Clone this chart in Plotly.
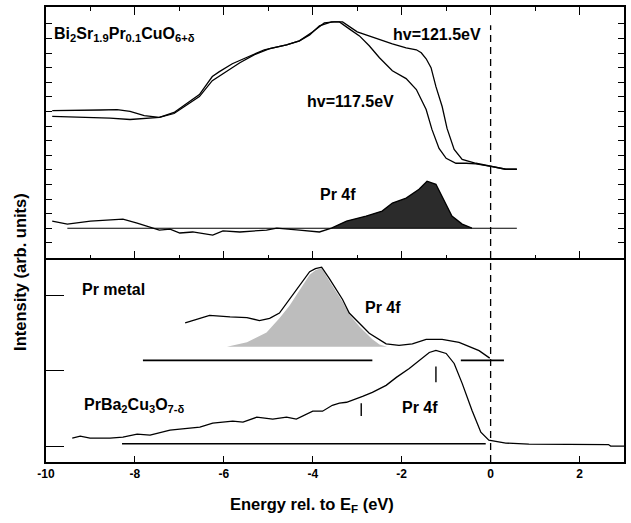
import plotly.graph_objects as go

# ---------------- data (energy in eV, intensity in arb. units) ----------------
# Upper panel: Bi2Sr1.9Pr0.1CuO6+d spectra
E_121 = [-9.86, -9.23, -8.78, -8.40, -8.11, -7.79, -7.45, -7.12, -6.78, -6.55, -6.26, -6.10,
         -5.81, -5.42, -5.09, -4.59, -4.30, -4.07, -3.85, -3.58, -3.33, -3.00, -2.73, -2.50,
         -2.21, -1.90, -1.67, -1.56, -1.45, -1.34, -1.23, -1.09, -0.98, -0.82, -0.64, -0.33,
         0.01, 0.34, 0.59]
I_121 = [9.06, 9.06, 9.10, 9.13, 9.00, 8.72, 8.59, 8.93, 9.68, 10.16, 11.39, 11.73,
         12.27, 12.82, 13.23, 13.57, 13.84, 14.25, 14.87, 15.14, 15.14, 14.46, 14.18, 13.91,
         13.64, 13.36, 13.23, 13.02, 12.61, 12.00, 10.70, 9.34, 7.84, 6.40, 5.72, 5.45,
         5.24, 5.04, 5.04]

E_117 = [-9.86, -9.23, -8.56, -8.11, -7.66, -7.45, -7.12, -6.78, -6.55, -6.26, -5.98, -5.64,
         -5.31, -4.97, -4.59, -4.30, -4.00, -3.74, -3.52, -3.40, -3.18, -2.95, -2.73, -2.50,
         -2.21, -1.90, -1.67, -1.45, -1.32, -1.16, -1.00, -0.78, -0.55, -0.33, 0.01, 0.34, 0.59]
I_117 = [8.66, 8.62, 8.55, 8.45, 8.52, 8.59, 8.86, 9.54, 10.02, 11.11, 11.66, 12.34,
         12.89, 13.30, 13.57, 13.84, 14.46, 15.07, 15.14, 15.14, 14.66, 14.18, 13.50, 12.68,
         11.79, 11.25, 10.50, 9.13, 7.77, 6.47, 5.79, 5.45, 5.45, 5.41, 5.24, 5.04, 5.04]

# Upper panel: difference spectrum (Pr 4f)
E_DIFF = [-9.86, -9.52, -9.00, -8.27, -7.95, -7.45, -7.21, -6.99, -6.70, -6.25, -6.02, -5.64,
          -5.04, -4.81, -4.30, -3.85, -3.58, -3.24, -2.80, -2.44, -2.21, -1.90, -1.61, -1.43,
          -1.23, -1.00, -0.87, -0.64, -0.42]
I_DIFF = [1.49, 1.28, 1.49, 1.62, 1.35, 0.87, 0.94, 0.67, 0.74, 0.53, 0.81, 0.74,
          0.87, 1.01, 0.87, 0.74, 1.01, 1.49, 1.83, 2.17, 2.72, 3.06, 3.67, 4.22,
          4.01, 2.65, 1.83, 1.28, 1.01]
DIFF_BASE = 1.0
DIFF_BASE_RANGE = [-9.52, 0.59]
DIFF_FILL_FROM = -3.58

# Lower panel: Pr metal
E_PRMETAL = [-6.87, -6.54, -6.32, -5.86, -5.48, -5.20, -4.97, -4.75, -4.52, -4.30, -4.07, -3.94,
             -3.80, -3.63, -3.33, -3.18, -2.95, -2.73, -2.35, -2.06, -1.76, -1.45, -1.09, -0.71,
             -0.26, -0.02]
I_PRMETAL = [1.64, 1.70, 1.74, 1.72, 1.71, 1.67, 1.70, 1.77, 1.96, 2.13, 2.32, 2.36,
             2.38, 2.23, 1.95, 1.77, 1.63, 1.50, 1.36, 1.34, 1.36, 1.42, 1.42, 1.38,
             1.27, 1.17]
E_PRMETAL_4F = [-5.93, -5.48, -5.04, -4.75, -4.52, -4.30, -4.07, -3.94, -3.80, -3.63, -3.33,
                -3.18, -2.95, -2.66, -2.50, -2.33]
I_PRMETAL_4F = [1.32, 1.38, 1.51, 1.70, 1.87, 2.07, 2.28, 2.34, 2.37, 2.20, 1.92,
                1.75, 1.59, 1.42, 1.35, 1.32]
PRMETAL_BASE = 1.14
PRMETAL_BASE_SEGMENTS = [[-7.82, -2.66], [-0.67, 0.30]]

# Lower panel: PrBa2Cu3O7-d
E_PRBCO = [-9.41, -9.23, -9.01, -8.56, -8.27, -7.95, -7.66, -7.21, -6.99, -6.54, -6.25, -5.80,
           -5.57, -5.26, -4.90, -4.59, -4.37, -4.00, -3.78, -3.56, -3.40, -3.24, -2.88, -2.66,
           -2.35, -2.12, -1.83, -1.61, -1.38, -1.23, -1.00, -0.82, -0.64, -0.42, -0.22, -0.04,
           0.34, 0.86, 1.76, 2.65, 2.70, 3.04]
I_PRBCO = [0.106, 0.132, 0.106, 0.106, 0.119, 0.159, 0.146, 0.212, 0.225, 0.252, 0.305, 0.331,
           0.318, 0.384, 0.358, 0.384, 0.358, 0.464, 0.464, 0.543, 0.570, 0.583, 0.662, 0.715,
           0.808, 0.914, 1.033, 1.139, 1.245, 1.272, 1.232, 1.099, 0.834, 0.477, 0.185, 0.079,
           0.040, 0.026, 0.026, 0.020, 0.0, 0.0]
PRBCO_BASE = 0.03
PRBCO_BASE_RANGE = [-8.29, -0.11]
MARK_E = [-2.91, -1.23]
MARK_I = [[0.40, 0.57], [0.85, 1.06]]

X_TICKS = [-10, -8, -6, -4, -2, 0, 2]
X_TICK_LABELS = ["-10", "-8", "-6", "-4", "-2", "0", "2"]
Y_TOP_TICKS = list(range(16))
Y_BOT_TICKS = [0, 1, 2]
FERMI_E = 0.0

# ---------------- figure ----------------
FONT = "Liberation Sans, Arial, Helvetica, sans-serif"
LW = 1.3
fig = go.Figure()

# top panel spectra
fig.add_trace(go.Scatter(x=E_121, y=I_121, mode="lines", line=dict(color="black", width=LW),
                         xaxis="x", yaxis="y", showlegend=False))
fig.add_trace(go.Scatter(x=E_117, y=I_117, mode="lines", line=dict(color="black", width=LW),
                         xaxis="x", yaxis="y", showlegend=False))

# difference fill
fill_x = [e for e in E_DIFF if e >= DIFF_FILL_FROM]
fill_y = [i for e, i in zip(E_DIFF, I_DIFF) if e >= DIFF_FILL_FROM]
fig.add_trace(go.Scatter(x=fill_x, y=[DIFF_BASE] * len(fill_x), mode="lines",
                         line=dict(width=0, color="black"), xaxis="x", yaxis="y",
                         showlegend=False, hoverinfo="skip"))
fig.add_trace(go.Scatter(x=fill_x, y=fill_y, mode="lines", line=dict(width=0, color="black"),
                         fill="tonexty", fillcolor="#2b2b2b", xaxis="x", yaxis="y",
                         showlegend=False, hoverinfo="skip"))
fig.add_trace(go.Scatter(x=DIFF_BASE_RANGE, y=[DIFF_BASE, DIFF_BASE], mode="lines",
                         line=dict(color="black", width=1.1), xaxis="x", yaxis="y",
                         showlegend=False))
fig.add_trace(go.Scatter(x=E_DIFF, y=I_DIFF, mode="lines", line=dict(color="black", width=LW),
                         xaxis="x", yaxis="y", showlegend=False))

# lower panel: Pr metal shade + curve
fig.add_trace(go.Scatter(x=E_PRMETAL_4F, y=I_PRMETAL_4F, mode="lines", fill="toself",
                         fillcolor="#bdbdbd", line=dict(width=0, color="#bdbdbd"),
                         xaxis="x2", yaxis="y2", showlegend=False, hoverinfo="skip"))
fig.add_trace(go.Scatter(x=E_PRMETAL, y=I_PRMETAL, mode="lines",
                         line=dict(color="black", width=LW), xaxis="x2", yaxis="y2",
                         showlegend=False))
seg_x, seg_y = [], []
for a, b in PRMETAL_BASE_SEGMENTS:
    seg_x += [a, b, None]
    seg_y += [PRMETAL_BASE, PRMETAL_BASE, None]
fig.add_trace(go.Scatter(x=seg_x, y=seg_y, mode="lines", line=dict(color="black", width=1.6),
                         xaxis="x2", yaxis="y2", showlegend=False))

# lower panel: PrBa2Cu3O7
fig.add_trace(go.Scatter(x=PRBCO_BASE_RANGE, y=[PRBCO_BASE, PRBCO_BASE], mode="lines",
                         line=dict(color="black", width=1.6), xaxis="x2", yaxis="y2",
                         showlegend=False))
fig.add_trace(go.Scatter(x=E_PRBCO, y=I_PRBCO, mode="lines",
                         line=dict(color="black", width=LW), xaxis="x2", yaxis="y2",
                         showlegend=False))
mx, my = [], []
for e, (lo, hi) in zip(MARK_E, MARK_I):
    mx += [e, e, None]
    my += [lo, hi, None]
fig.add_trace(go.Scatter(x=mx, y=my, mode="lines", line=dict(color="black", width=1.4),
                         xaxis="x2", yaxis="y2", showlegend=False))

# Fermi level dashed line
fig.add_shape(type="line", xref="x", yref="paper", x0=FERMI_E, x1=FERMI_E, y0=0, y1=0.96,
              line=dict(color="black", width=1.3, dash="7px,5px"))

BOUND = 0.4475
axis_common = dict(showgrid=False, zeroline=False, showline=True, linecolor="black",
                   linewidth=1.5, tickcolor="black")
fig.update_layout(
    width=631, height=523,
    margin=dict(l=46, r=5, t=5, b=61),
    paper_bgcolor="white", plot_bgcolor="white",
    font=dict(family=FONT, color="black"),
    xaxis=dict(range=[-10, 3], domain=[0, 1], anchor="y", matches="x2",
               showticklabels=False, ticks="inside", tickmode="linear", tick0=0, dtick=2,
               ticklen=8, tickwidth=1.3, mirror="ticks",
               minor=dict(ticks="inside", dtick=1, tick0=0, ticklen=4, tickwidth=1.2,
                          tickcolor="black", showgrid=False),
               **axis_common),
    yaxis=dict(range=[-1.07, 16.16], domain=[BOUND, 1], anchor="x",
               showticklabels=False, ticks="inside", tickmode="array",
               tickvals=Y_TOP_TICKS, ticklen=6, tickwidth=1.3, mirror="ticks",
               **axis_common),
    xaxis2=dict(range=[-10, 3], domain=[0, 1], anchor="y2",
                ticks="inside", tickmode="array", tickvals=X_TICKS, ticktext=X_TICK_LABELS,
                ticklen=6, tickwidth=1.3, mirror=False,
                tickfont=dict(family=FONT, size=12, weight="bold", color="black"),
                **axis_common),
    yaxis2=dict(range=[-0.212, 2.497], domain=[0, BOUND], anchor="x2",
                showticklabels=False, ticks="inside", tickmode="array",
                tickvals=Y_BOT_TICKS, ticklen=18, tickwidth=1.3, mirror=True,
                **axis_common),
)

LBL = dict(family=FONT, size=16, weight="bold", color="black")
ann = [
    dict(x=-9.86, y=14.25, xref="x", yref="y", xanchor="left", yanchor="middle",
         text="Bi<sub>2</sub>Sr<sub>1.9</sub>Pr<sub>0.1</sub>CuO<sub>6+δ</sub>", font=LBL),
    dict(x=-1.20, y=14.25, xref="x", yref="y", text="hv=121.5eV", font=LBL),
    dict(x=-3.15, y=9.68, xref="x", yref="y", text="hv=117.5eV", font=LBL),
    dict(x=-3.44, y=3.33, xref="x", yref="y", text="Pr 4f", font=LBL),
    dict(x=-8.49, y=2.08, xref="x2", yref="y2", text="Pr metal", font=LBL),
    dict(x=-2.43, y=1.84, xref="x2", yref="y2", text="Pr 4f", font=LBL),
    dict(x=-9.19, y=0.543, xref="x2", yref="y2", xanchor="left", yanchor="middle",
         text="PrBa<sub>2</sub>Cu<sub>3</sub>O<sub>7-δ</sub>", font=LBL),
    dict(x=-1.58, y=0.517, xref="x2", yref="y2", text="Pr 4f", font=LBL),
    dict(x=-0.0448, y=0.418, xref="paper", yref="paper", textangle=-90,
         text="Intensity (arb. units)", font=dict(family=FONT, size=16.5, weight="bold")),
    dict(x=0.460, y=-0.094, xref="paper", yref="paper",
         text="Energy rel. to E<sub>F</sub> (eV)", font=dict(family=FONT, size=16.5, weight="bold")),
]
for a in ann:
    a.setdefault("showarrow", False)
    a.setdefault("xanchor", "center")
    a.setdefault("yanchor", "middle")
fig.update_layout(annotations=ann)

fig.write_html("out.html")
